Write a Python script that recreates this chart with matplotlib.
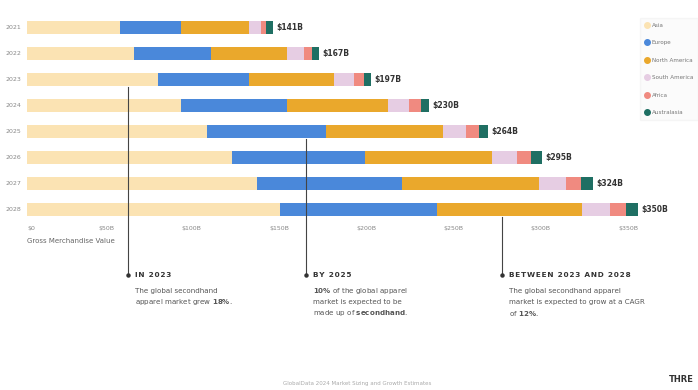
import numpy as np
from matplotlib import pyplot as plt
from matplotlib.lines import Line2D

years = ['2021', '2022', '2023', '2024', '2025', '2026', '2027', '2028']
regions = ['Asia', 'Europe', 'North America', 'South America', 'Africa', 'Australasia']
colors = ['#FBE3B3', '#4A88DA', '#EAA82C', '#E6CDE3', '#F08A80', '#1F6F63']

asia = [53, 61.5, 75, 88.5, 103, 117.5, 131.5, 145]
europe = [35, 44, 52, 60.5, 68, 76, 83.5, 90]
north_america = [39, 43.5, 49, 58, 67.5, 73, 78.5, 83]
south_america = [7, 9.5, 11.5, 12, 13, 14, 15, 16]
africa = [3, 4.5, 5.5, 6.5, 7.5, 8, 9, 9]
australasia = [4, 4, 4, 4.5, 5, 6.5, 6.5, 7]
total_labels = ['$141B', '$167B', '$197B', '$230B', '$264B', '$295B', '$324B', '$350B']

xticks = [0, 50, 100, 150, 200, 250, 300, 350]
xtick_labels = ['$0', '$50B', '$100B', '$150B', '$200B', '$250B', '$300B', '$350B']

W, H = 698, 390
fig = plt.figure(figsize=(W / 100, H / 100), dpi=100)
fig.patch.set_facecolor('white')

# axes placed in pixel terms
left, right, top, bottom = 27, 638, 14.5, 222
ax = fig.add_axes([left / W, 1 - bottom / H, (right - left) / W, (bottom - top) / H])

series = [asia, europe, north_america, south_america, africa, australasia]
y = np.arange(len(years))
base = np.zeros(len(years))
for vals, reg, c in zip(series, regions, colors):
    ax.barh(y, vals, left=base, height=0.5, color=c, label=reg)
    base += np.array(vals)

for yi, tot, lab in zip(y, base, total_labels):
    ax.text(tot + 2, yi, lab, va='center', ha='left', fontsize=5.5,
            color='#333333', fontweight='bold')

ax.set_xlim(0, 350)
ax.set_ylim(len(years) - 0.5, -0.5)
ax.set_yticks(y)
ax.set_yticklabels(years)
ax.set_xticks(xticks)
ax.set_xticklabels(xtick_labels)
for i, t in enumerate(ax.get_xticklabels()):
    t.set_ha('left' if i == 0 else 'right')
ax.tick_params(axis='both', length=0, labelsize=4.5, colors='#888888')
ax.tick_params(axis='x', pad=3)
ax.tick_params(axis='y', pad=4)
for s in ax.spines.values():
    s.set_visible(False)

fig.text(27 / W, 1 - 241 / H, 'Gross Merchandise Value', fontsize=5,
         color='#666666', va='center', ha='left')

# legend
handles = [Line2D([0], [0], marker='o', linestyle='', markersize=4,
                  markerfacecolor=c, markeredgecolor=c) for c in colors]
leg = fig.legend(handles, regions, loc='upper left', bbox_to_anchor=(640 / W, 1 - 18 / H),
                 fontsize=4.1, frameon=True, labelspacing=2.2, handletextpad=0.3,
                 handlelength=1.0, borderpad=0.8, borderaxespad=0)
leg.get_frame().set_facecolor('#FBFBFB')
leg.get_frame().set_edgecolor('#F3F3F3')
for t in leg.get_texts():
    t.set_color('#777777')


def spaced(s):
    return '\u200a'.join(s)


# callouts
callouts = [
    (128, 87, 'IN 2023',
     ['The global secondhand', r'apparel market grew $\bf{18\%}$.']),
    (306, 139, 'BY 2025',
     [r'$\bf{10\%}$ of the global apparel', 'market is expected to be',
      r'made up of $\bf{secondhand}$.']),
    (502, 217, 'BETWEEN 2023 AND 2028',
     ['The global secondhand apparel', 'market is expected to grow at a CAGR',
      r'of $\bf{12\%}$.']),
]
for xp, ytop, head, lines in callouts:
    fig.add_artist(Line2D([xp / W, xp / W], [1 - ytop / H, 1 - 275 / H],
                          transform=fig.transFigure, color='#444444', lw=0.8))
    fig.add_artist(Line2D([xp / W], [1 - 275 / H], transform=fig.transFigure,
                          marker='o', markersize=2.2, color='#333333'))
    fig.text((xp + 7) / W, 1 - 275 / H, spaced(head), fontsize=5.3, fontweight='bold',
             color='#333333', va='center', ha='left')
    for k, ln in enumerate(lines):
        fig.text((xp + 7) / W, 1 - (291 + 11 * k) / H, ln, fontsize=5.1,
                 color='#555555', va='center', ha='left')

fig.text(357 / W, 1 - 384 / H, 'GlobalData 2024 Market Sizing and Growth Estimates',
         fontsize=4, color='#AAAAAA', ha='center', va='center')
fig.text(681 / W, 1 - 379 / H, 'THRE', fontsize=6, fontweight='bold',
         color='#333333', ha='center', va='center')

plt.savefig('out.png', dpi=100)
